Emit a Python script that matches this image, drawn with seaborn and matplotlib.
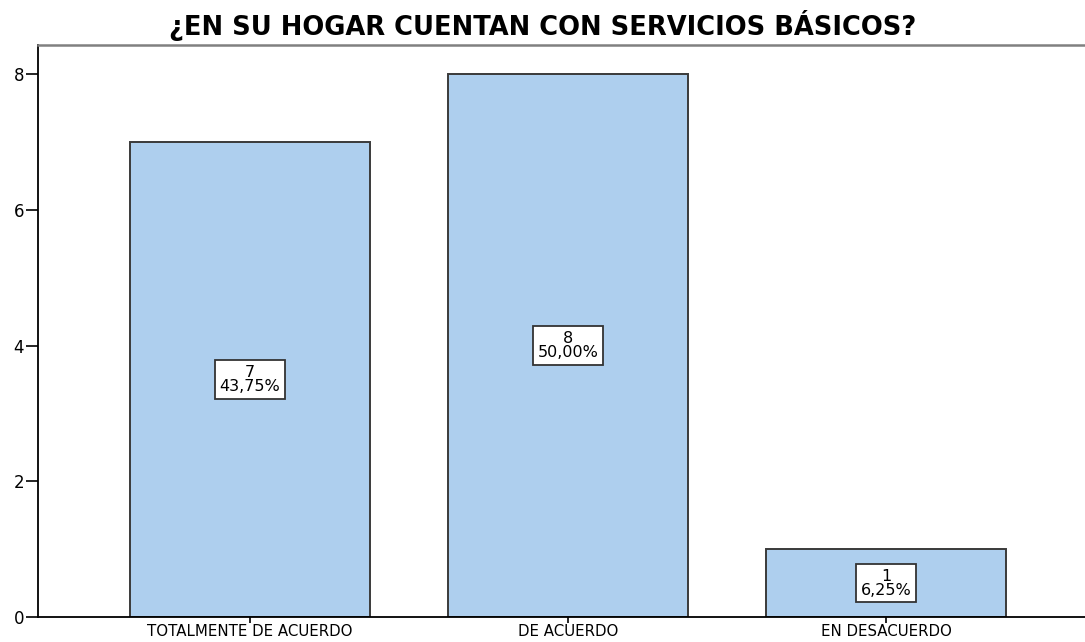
import matplotlib
matplotlib.use("Agg")
import matplotlib.pyplot as plt
import seaborn as sns
import pandas as pd

categories = ["TOTALMENTE DE ACUERDO", "DE ACUERDO", "EN DESACUERDO"]
counts = [7, 8, 1]
percent_labels = ["43,75%", "50,00%", "6,25%"]
title = "¿EN SU HOGAR CUENTAN CON SERVICIOS BÁSICOS?"
yticks = [0, 2, 4, 6, 8]

sns.set_theme(style="white")
plt.rcParams['font.family'] = ['DejaVu Sans']
plt.rcParams['text.color'] = 'black'
plt.rcParams['xtick.color'] = 'black'
plt.rcParams['ytick.color'] = 'black'

df = pd.DataFrame({"cat": categories, "n": counts})

fig = plt.figure(figsize=(10.85, 6.42), dpi=100)
ax = fig.add_axes([38/1085, 25/642, 1 - 38/1085, (617-45)/642])

sns.barplot(data=df, x="cat", y="n", order=categories, color="#AECFEE",
            width=0.755, edgecolor="#3a3a3a", linewidth=1.4, saturation=1, ax=ax)

for i, (c, p) in enumerate(zip(counts, percent_labels)):
    ax.text(i, c / 2, f"{c}\n{p}", ha="center", va="center", fontsize=11.5,
            linespacing=0.92, color="black",
            bbox=dict(boxstyle="square,pad=0.3", facecolor="white",
                      edgecolor="#333333", linewidth=1.3))

ax.set_xlim(-0.667, 2.626)
ax.set_ylim(0, 8.43)
ax.set_yticks(yticks)
ax.set_yticklabels([str(t) for t in yticks], fontsize=12)
ax.set_xlabel("")
ax.set_ylabel("")
ax.tick_params(axis="x", labelsize=10.8, length=4, width=1.2, color="black", direction="out", bottom=True, pad=0.8)
ax.tick_params(axis="y", length=9, width=1.2, color="black", direction="out", left=True, pad=1)

for s in ["left", "bottom"]:
    ax.spines[s].set_color("black")
    ax.spines[s].set_linewidth(1.3)
ax.spines["top"].set_color("#808080")
ax.spines["top"].set_linewidth(1.8)
ax.spines["right"].set_visible(False)

fig.text(0.5, 1 - 35/642, title, ha="center", va="baseline", fontsize=18.5, fontweight="bold", color="black")

fig.savefig("out.png", dpi=100)
